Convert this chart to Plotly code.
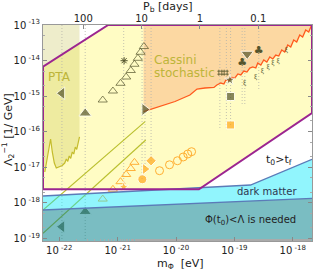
import math
import plotly.graph_objects as go

# ---------------- data ----------------
m_min, m_max = 5.26e-23, 2.14e-18
lam_min, lam_max = 8.4e-20, 1e-13
x_tick_vals = [1e-22, 1e-21, 1e-20, 1e-19, 1e-18]
x_tick_text = ["10<sup> -22</sup>", "10<sup> -21</sup>", "10<sup> -20</sup>", "10<sup> -19</sup>", "10<sup> -18</sup>"]
y_tick_vals = [1e-19, 1e-18, 1e-17, 1e-16, 1e-15, 1e-14, 1e-13]
y_tick_text = ["10<sup> -19</sup>", "10<sup> -18</sup>", "10<sup> -17</sup>", "10<sup> -16</sup>",
               "10<sup> -15</sup>", "10<sup> -14</sup>", "10<sup> -13</sup>"]
pb_ticks = [100, 10, 1, 0.1]
pb_tick_text = ["100", "10", "1", "0.1"]
pb_times_m = 10 ** -19.59  # P_b[days] * m[eV]

# purple allowed-region boundary
purple_m = [5.26e-23, 6.88e-22, 2.14e-18, 2.14e-18, 2.47e-20, 5.26e-23, 5.26e-23]
purple_l = [6.71e-15, 1e-13, 1e-13, 3.35e-16, 2.39e-18, 2.39e-18, 6.71e-15]

# PTA curve
pta_m = [5.65e-23, 6.24e-23, 6.75e-23, 7.10e-23, 7.59e-23, 8.22e-23, 8.89e-23, 1.0e-22, 1.125e-22,
         1.24e-22, 1.32e-22, 1.40e-22, 1.48e-22, 1.57e-22, 1.67e-22, 1.77e-22, 1.88e-22, 1.99e-22,
         2.11e-22, 2.22e-22]
pta_l = [7.33e-18, 1.82e-17, 4.21e-17, 6.21e-17, 2.68e-17, 1.31e-17, 9.48e-18, 1.01e-17, 1.12e-17,
         1.31e-17, 1.70e-17, 1.45e-17, 2.07e-17, 1.76e-17, 2.68e-17, 2.35e-17, 3.70e-17, 3.15e-17,
         5.46e-17, 7.08e-17]

# Cassini stochastic curve
cas_m = [2.78e-21, 5.32e-21, 9.62e-21, 1.73e-20, 2.29e-20, 3.13e-20, 4.47e-20, 5.02e-20, 5.87e-20,
         6.62e-20, 7.16e-20, 8.05e-20, 9.06e-20, 1.02e-19, 1.15e-19, 1.29e-19, 1.45e-19, 1.64e-19,
         1.84e-19, 2.07e-19, 2.33e-19, 2.52e-19, 2.84e-19, 3.19e-19, 3.60e-19, 4.05e-19, 4.55e-19,
         5.12e-19, 5.77e-19, 6.49e-19, 7.29e-19, 8.22e-19, 9.25e-19, 1.04e-18, 1.17e-18, 1.32e-18,
         1.48e-18, 1.67e-18, 1.88e-18, 2.11e-18]
cas_l = [3.64e-16, 5.09e-16, 7.05e-16, 1.07e-15, 1.58e-15, 1.69e-15, 1.75e-15, 2.05e-15, 2.33e-15,
         2.19e-15, 2.84e-15, 2.66e-15, 3.33e-15, 3.23e-15, 4.19e-15, 3.93e-15, 5.08e-15, 4.76e-15,
         6.17e-15, 6.59e-15, 6.17e-15, 8.53e-15, 7.50e-15, 1.035e-14, 9.10e-15, 1.26e-14, 1.11e-14,
         1.43e-14, 1.34e-14, 1.98e-14, 1.74e-14, 2.74e-14, 2.40e-14, 3.78e-14, 3.33e-14, 5.23e-14,
         4.60e-14, 7.23e-14, 6.35e-14, 1e-13]

# dark matter band
dm_up_m = [5.26e-23, 1.89e-19, 2.14e-18]
dm_up_l = [1.55e-18, 3.16e-18, 1.67e-17]
dm_lo_m = [5.26e-23, 2.14e-18]
dm_lo_l = [6.25e-19, 1.33e-18]

# two olive diagonal lines
diag1_m = [5.26e-23, 2.95e-21]
diag1_l = [6.25e-19, 1.91e-16]
diag2_m = [5.26e-23, 3.03e-21]
diag2_l = [1.38e-19, 5.82e-17]

# dotted vertical guide lines: mass, lower end
guide_m = [1.11e-22, 2.78e-22, 1.27e-21, 2.62e-21, 2.95e-21, 3.74e-21, 5.65e-20, 7.3e-20, 8.61e-20,
           1.36e-19, 1.51e-19, 2.62e-19]
guide_lo = [8.4e-20, 8.4e-20, 2.77e-18, 4.57e-18, 8.9e-18, 1.52e-17, 1.11e-16, 1.11e-16, 1.54e-16,
            5.62e-16, 5.62e-16, 1.49e-15]

# olive open triangles
otri_m = [5.55e-22, 8.3e-22, 1.12e-21, 1.40e-21, 1.68e-21, 1.94e-21, 2.22e-21, 2.47e-21, 2.82e-21]
otri_l = [7.76e-16, 1.39e-15, 2.29e-15, 3.44e-15, 5.25e-15, 7.85e-15, 1.156e-14, 1.71e-14, 2.48e-14]
# orange open triangles
ytri_m = [5.55e-22, 8.3e-22, 1.12e-21, 1.40e-21, 1.68e-21, 1.94e-21]
ytri_l = [1.27e-18, 2.39e-18, 3.91e-18, 6.24e-18, 9.18e-18, 1.37e-17]
# orange open circles
ocirc_m = [5.22e-21, 7.74e-21, 1.06e-20, 1.33e-20, 1.59e-20, 1.85e-20]
ocirc_l = [7.98e-18, 1.17e-17, 1.52e-17, 1.94e-17, 2.35e-17, 2.73e-17]
# single orange filled markers: star, circle, right triangle, diamond, square
orange_m = [1.27e-21, 2.65e-21, 2.95e-21, 3.74e-21, 8.61e-20]
orange_l = [2.77e-18, 4.57e-18, 8.9e-18, 1.52e-17, 1.54e-16]
orange_sym = ["star", "circle", "triangle-right", "diamond", "square"]
# olive filled markers
olive_m = [1.11e-22, 1.11e-22, 2.78e-22, 2.78e-22, 2.90e-21, 8.38e-20, 8.61e-20, 1.66e-19]
olive_l = [1.20e-15, 2.12e-19, 3.28e-16, 5.60e-19, 4.20e-16, 2.84e-15, 9.75e-16, 1.53e-14]
olive_sym = ["triangle-left", "triangle-left", "triangle-up", "triangle-up", "triangle-right",
             "star", "square", "triangle-down"]
# asterisk and hashes
aster_m, aster_l = [1.29e-21], [9.9e-15]
hash_m = [5.75e-20, 7.1e-20]
hash_l = [4.55e-15, 4.55e-15]
# clubs
club_m = [1.36e-19, 2.62e-19]
club_l = [8.37e-15, 1.77e-14]
# xi-like glyphs
xi_m = [1.51e-19, 2.33e-19, 3.03e-19, 3.79e-19, 4.60e-19, 5.61e-19, 7.80e-19]
xi_l = [2.29e-15, 3.30e-15, 4.85e-15, 6.46e-15, 8.37e-15, 9.7e-15, 1.98e-14]

# ---------------- colours ----------------
OLIVE = "#55552c"
ORANGE = "#ffa81a"
PURPLE = "#9c2590"
FONT = "DejaVu Sans"

fig = go.Figure()

def poly(xs, ys, fill, line=None, width=0):
    fig.add_trace(go.Scatter(x=xs, y=ys, mode="lines", fill="toself", fillcolor=fill,
                             line=dict(color=line or "rgba(0,0,0,0)", width=width),
                             hoverinfo="skip", showlegend=False))

# yellow allowed region
poly(purple_m, purple_l, "#fffcc4")
# PTA band (translucent)
pta_poly_m = pta_m + [pta_m[-1], m_min, m_min]
pta_poly_l = pta_l + [lam_max, lam_max, pta_l[0]]
poly(pta_poly_m, pta_poly_l, "rgba(195,192,70,0.28)")
# Cassini region
cas_poly_m = cas_m + [cas_m[-1], cas_m[0]]
cas_poly_l = cas_l + [lam_max, lam_max]
poly(cas_poly_m, cas_poly_l, "#fcd8a2")

# dotted guides
for gm, gl in zip(guide_m, guide_lo):
    fig.add_trace(go.Scatter(x=[gm, gm], y=[lam_max, gl], mode="lines",
                             line=dict(color="#b4b4aa", width=0.8, dash="1px,2px"),
                             hoverinfo="skip", showlegend=False))

# PTA curve
fig.add_trace(go.Scatter(x=pta_m, y=pta_l, mode="lines", line=dict(color="#c4bc2c", width=1.2),
                         showlegend=False))
# diagonal lines
for dm, dl in [(diag1_m, diag1_l), (diag2_m, diag2_l)]:
    fig.add_trace(go.Scatter(x=dm, y=dl, mode="lines", line=dict(color="#b9bf2e", width=1.1),
                             showlegend=False))
# Cassini curve
fig.add_trace(go.Scatter(x=cas_m, y=cas_l, mode="lines", line=dict(color="#ff5a1e", width=1.3),
                         showlegend=False))

# markers
fig.add_trace(go.Scatter(x=ytri_m, y=ytri_l, mode="markers",
                         marker=dict(symbol="triangle-up-open", size=8, color="#ffb13a",
                                     line=dict(width=1)), showlegend=False))
fig.add_trace(go.Scatter(x=otri_m, y=otri_l, mode="markers",
                         marker=dict(symbol="triangle-up-open", size=8, color=OLIVE,
                                     line=dict(width=0.7)), showlegend=False))
fig.add_trace(go.Scatter(x=ocirc_m, y=ocirc_l, mode="markers",
                         marker=dict(symbol="circle-open", size=8, color="#ffae30",
                                     line=dict(width=1)), showlegend=False))
fig.add_trace(go.Scatter(x=orange_m, y=orange_l, mode="markers",
                         marker=dict(symbol=orange_sym, size=[8, 9, 10, 8, 8], color=ORANGE),
                         showlegend=False))
fig.add_trace(go.Scatter(x=olive_m, y=olive_l, mode="markers",
                         marker=dict(symbol=olive_sym, size=[11, 11, 11, 11, 11, 8, 8, 11], color=OLIVE),
                         showlegend=False))
fig.add_trace(go.Scatter(x=aster_m, y=aster_l, mode="markers",
                         marker=dict(symbol="asterisk-open", size=6, color=OLIVE, line=dict(width=1, color=OLIVE)),
                         showlegend=False))
fig.add_trace(go.Scatter(x=hash_m, y=hash_l, mode="markers",
                         marker=dict(symbol="hash-open", size=6, color=OLIVE, line=dict(width=0.8, color=OLIVE)),
                         showlegend=False))
fig.add_trace(go.Scatter(x=club_m, y=club_l, mode="text", text=["♣"] * len(club_m),
                         textfont=dict(color=OLIVE, size=11, family=FONT), showlegend=False))
fig.add_trace(go.Scatter(x=xi_m, y=xi_l, mode="text", text=["ξ"] * len(xi_m),
                         textfont=dict(color=OLIVE, size=6, family=FONT), showlegend=False))

# dark matter band & lower region (translucent, drawn over markers)
poly(dm_lo_m + [m_max, m_min], dm_lo_l + [lam_min, lam_min], "rgba(0,128,138,0.52)")
poly(dm_up_m + dm_lo_m[::-1], dm_up_l + dm_lo_l[::-1], "rgba(10,232,250,0.45)")
for bm, bl in [(dm_up_m, dm_up_l), (dm_lo_m, dm_lo_l)]:
    fig.add_trace(go.Scatter(x=bm, y=bl, mode="lines", line=dict(color="#5b7bb8", width=1.3),
                             showlegend=False))
# purple boundary line
fig.add_trace(go.Scatter(x=purple_m, y=purple_l, mode="lines", line=dict(color=PURPLE, width=2),
                         showlegend=False))

# dummy trace for the top P_b axis
fig.add_trace(go.Scatter(x=pb_ticks, y=[lam_max] * len(pb_ticks), xaxis="x2", mode="markers",
                         marker=dict(opacity=0), hoverinfo="skip", showlegend=False))

axis_font = dict(family=FONT, size=10, color="#222")
fig.update_layout(
    width=314, height=272,
    margin=dict(l=43, r=2, t=25, b=31),
    paper_bgcolor="white", plot_bgcolor="white",
    font=dict(family=FONT, color="#222"),
    hovermode=False,
    xaxis=dict(type="log", range=[math.log10(m_min), math.log10(m_max)],
               tickvals=x_tick_vals, ticktext=x_tick_text, ticks="inside", ticklen=4,
               tickcolor="#888", showline=True, linecolor="#999", linewidth=1, mirror=True,
               showgrid=False, zeroline=False, tickfont=axis_font, automargin=False,
               minor=dict(ticks="inside", ticklen=2, tickcolor="#aaa", showgrid=False)),
    xaxis2=dict(type="log", overlaying="x", side="top",
                range=[math.log10(pb_times_m / m_min), math.log10(pb_times_m / m_max)],
                tickvals=pb_ticks, ticktext=pb_tick_text, ticks="inside", ticklen=4,
                tickcolor="#888", showgrid=False, zeroline=False, tickfont=axis_font,
                automargin=False),
    yaxis=dict(type="log", range=[math.log10(lam_min), math.log10(lam_max)],
               tickvals=y_tick_vals, ticktext=y_tick_text, ticks="inside", ticklen=4,
               tickcolor="#888", showline=True, linecolor="#999", linewidth=1, mirror="ticks",
               showgrid=False, zeroline=False, tickfont=axis_font, automargin=False,
               minor=dict(ticks="inside", ticklen=2, tickcolor="#aaa", showgrid=False)),
)

def ann(text, x, y, size=10, color="#222", xanchor="center", angle=0):
    fig.add_annotation(text=text, x=x, y=y, xref="paper", yref="paper", showarrow=False,
                       xanchor=xanchor, yanchor="middle", textangle=angle,
                       font=dict(family=FONT, size=size, color=color))

ann("PTA", 0.0595, 0.761, size=12, color="#bdb53a")
ann("Cassini", 0.407, 0.840, size=12, color="#bdb53a", xanchor="left")
ann("stochastic", 0.407, 0.780, size=12, color="#bdb53a", xanchor="left")
ann("t<sub>0</sub>>t<sub>f</sub>", 0.877, 0.375, size=11)
ann("dark matter", 0.831, 0.228, size=10, color="#2e3650")
ann("Φ(t<sub>0</sub>)<Λ is needed", 0.770, 0.094, size=10)
ann("P<sub>b</sub> [days]", 0.465, 1.083, size=11)
ann("m<sub>Φ</sub>  [eV]", 0.513, -0.108, size=11)
ann("Λ<sub>2</sub><sup>−1</sup> [1/ GeV]", -0.13, 0.514, size=11, angle=-90)

# remove the browser's default page margin so the figure sits at the window's top-left
fig.write_html("out.html", config={"displayModeBar": False},
               post_script="document.body.style.margin='0';")
